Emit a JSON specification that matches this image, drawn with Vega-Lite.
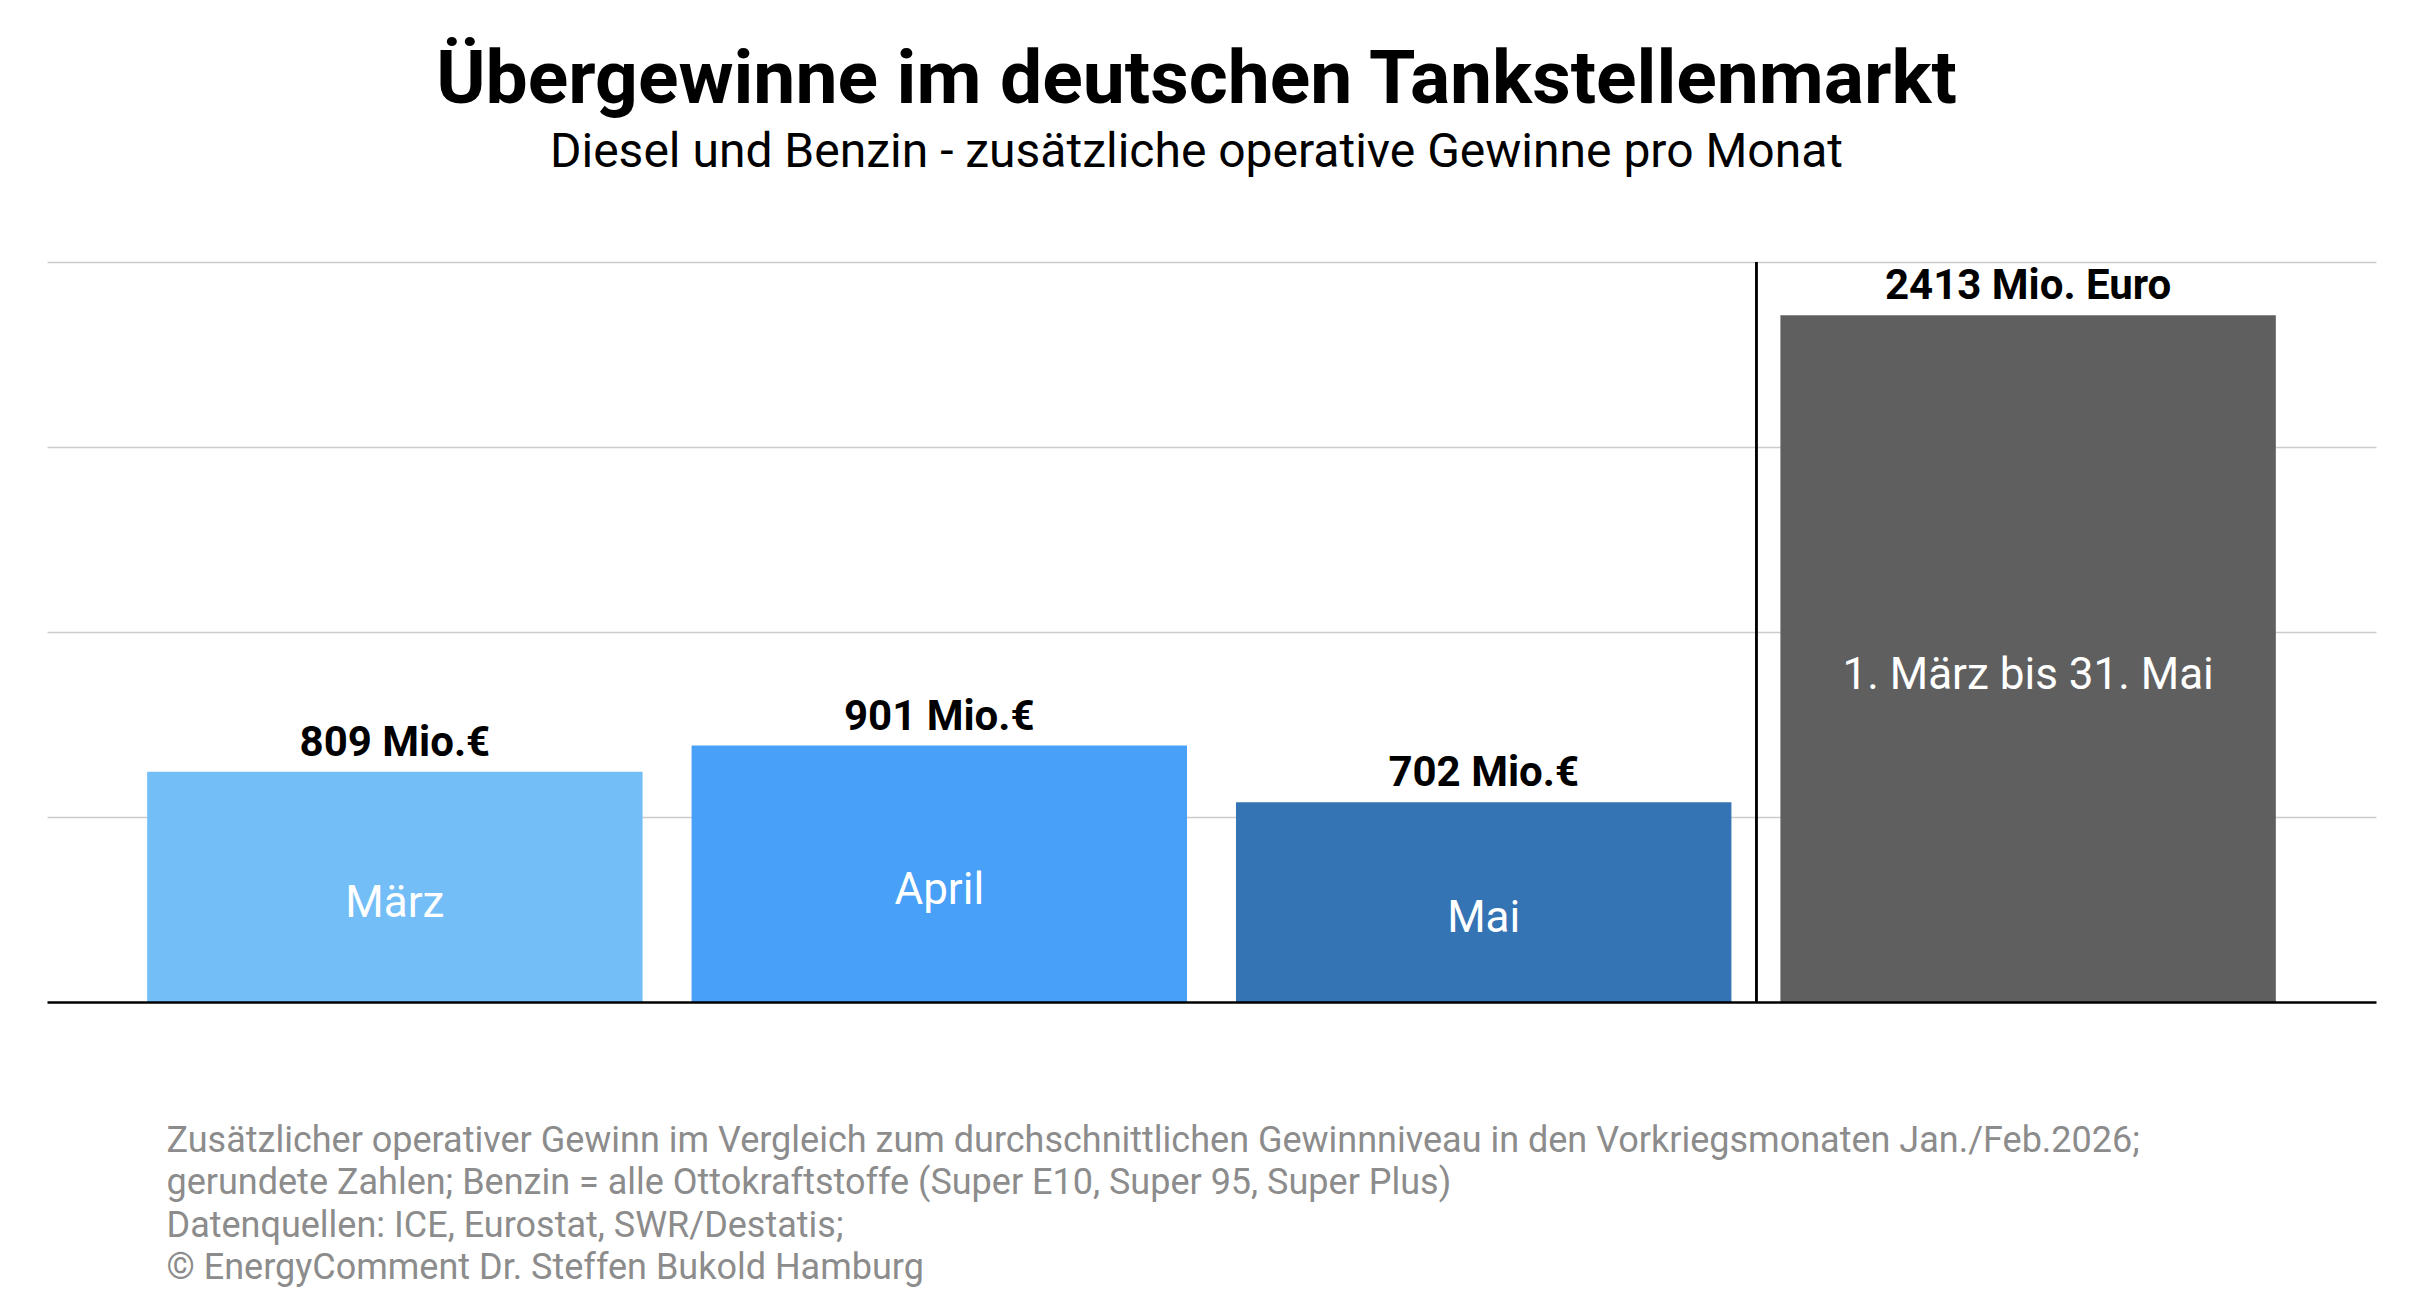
{
  "$schema": "https://vega.github.io/schema/vega-lite/v6.json",
  "autosize": "none",
  "width": 2329,
  "height": 740,
  "padding": {"left": 47, "top": 262, "right": 40, "bottom": 306},
  "background": "white",
  "config": {"font": "Roboto", "view": {"stroke": null}},
  "title": {
    "text": "Übergewinne im deutschen Tankstellenmarkt",
    "subtitle": "Diesel und Benzin - zusätzliche operative Gewinne pro Monat",
    "anchor": "middle",
    "font": "Roboto",
    "fontSize": 75,
    "fontWeight": "bold",
    "color": "#000000",
    "subtitleFont": "Roboto",
    "subtitleFontSize": 48,
    "subtitleColor": "#000000",
    "subtitlePadding": 10,
    "offset": 83,
    "dx": -15
  },
  "data": {
    "values": [
      {"zeitraum": "März", "wert": 809, "label": "809 Mio.€"},
      {"zeitraum": "April", "wert": 901, "label": "901 Mio.€"},
      {"zeitraum": "Mai", "wert": 702, "label": "702 Mio.€"},
      {"zeitraum": "1. März bis 31. Mai", "wert": 2413, "label": "2413 Mio. Euro"}
    ]
  },
  "encoding": {
    "x": {
      "field": "zeitraum",
      "type": "nominal",
      "sort": null,
      "scale": {"paddingInner": 0.09, "paddingOuter": 0.184},
      "axis": {
        "title": [
          "Zusätzlicher operativer Gewinn im Vergleich zum durchschnittlichen Gewinnniveau in den Vorkriegsmonaten Jan./Feb.2026;",
          "gerundete Zahlen; Benzin = alle Ottokraftstoffe (Super E10, Super 95, Super Plus)",
          "Datenquellen: ICE, Eurostat, SWR/Destatis;",
          "© EnergyComment Dr. Steffen Bukold Hamburg"
        ],
        "labels": false,
        "ticks": false,
        "grid": false,
        "domain": true,
        "domainColor": "#000000",
        "domainWidth": 2.5,
        "zindex": 1,
        "titleAnchor": "start",
        "titleAlign": "left",
        "titleBaseline": "alphabetic",
        "titleX": 119,
        "titleY": 149,
        "titleFont": "Roboto",
        "titleFontSize": 36,
        "titleFontWeight": "normal",
        "titleColor": "#8c8c8c",
        "titleLineHeight": 42.5
      }
    }
  },
  "layer": [
    {
      "layer": [
        {
          "mark": {"type": "bar"},
          "encoding": {
            "y": {
              "field": "wert",
              "type": "quantitative",
              "scale": {"domain": [0, 2600]},
              "axis": {
                "values": [650, 1300, 1950, 2600],
                "labels": false,
                "ticks": false,
                "domain": false,
                "title": null,
                "grid": true,
                "gridColor": "#cccccc",
                "gridWidth": 1.7
              }
            },
            "color": {
              "field": "zeitraum",
              "type": "nominal",
              "scale": {
                "domain": ["März", "April", "Mai", "1. März bis 31. Mai"],
                "range": ["#73bef7", "#48a0f7", "#3474b5", "#5f5f5f"]
              },
              "legend": null
            }
          }
        },
        {
          "mark": {"type": "rule", "color": "#000000", "strokeWidth": 2, "xOffset": -24},
          "encoding": {
            "x": {"datum": "1. März bis 31. Mai", "bandPosition": 0},
            "y": {"datum": 2600},
            "y2": {"datum": 0}
          }
        },
        {
          "mark": {"type": "text", "baseline": "alphabetic", "dy": -16, "fontSize": 42, "fontWeight": "bold", "color": "#000000", "font": "Roboto"},
          "encoding": {
            "y": {"field": "wert", "type": "quantitative"},
            "text": {"field": "label"}
          }
        }
      ]
    },
    {
      "mark": {"type": "text", "baseline": "middle", "dy": 17, "fontSize": 44, "color": "#ffffff", "font": "Roboto"},
      "encoding": {
        "y": {"field": "wert", "type": "quantitative", "scale": {"domain": [0, 5200]}, "axis": null},
        "text": {"field": "zeitraum"}
      }
    }
  ],
  "resolve": {"scale": {"y": "independent"}}
}
